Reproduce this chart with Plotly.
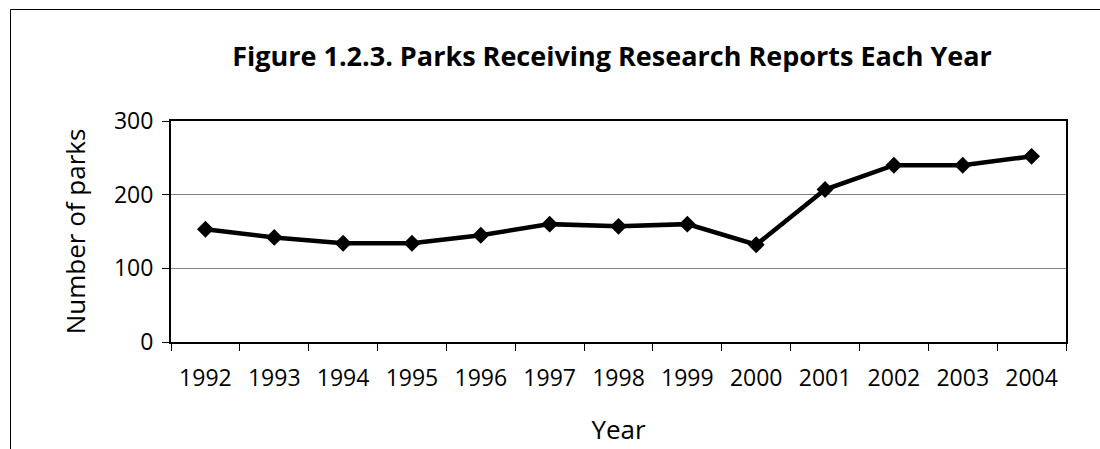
import plotly.graph_objects as go

years = ["1992", "1993", "1994", "1995", "1996", "1997", "1998", "1999",
         "2000", "2001", "2002", "2003", "2004"]
parks = [153, 142, 134, 134, 145, 160, 157, 160, 132, 207, 240, 240, 252]
y_ticks = [0, 100, 200, 300]

W, H = 1100, 449
L, R, T, B = 171, 34, 121, 107
PW, PH = W - L - R, H - T - B

fig = go.Figure()
fig.add_trace(go.Scatter(
    x=years, y=parks, mode="lines+markers",
    line=dict(color="black", width=4.5),
    marker=dict(symbol="diamond", size=13, color="black"),
    showlegend=False, hoverinfo="x+y",
))

font = "Open Sans, Noto Sans, sans-serif"
fig.update_layout(
    width=W, height=H,
    margin=dict(l=L, r=R, t=T, b=B, pad=0, autoexpand=False),
    paper_bgcolor="white", plot_bgcolor="white",
    font=dict(family=font, color="black", size=23),
    title=dict(
        text="<b>Figure 1.2.3. Parks Receiving Research Reports Each Year</b>",
        x=612 / W, xanchor="center", y=1 - 57 / H, yanchor="middle",
        xref="container", yref="container",
        font=dict(family=font, size=27, color="black"),
    ),
    xaxis=dict(
        type="category", range=[-0.5, len(years) - 0.5],
        tickson="boundaries", ticks="outside", ticklen=7,
        tickcolor="black", tickwidth=1, ticklabelstandoff=14,
        showline=True, linecolor="black", linewidth=2, mirror=True,
        showgrid=False, zeroline=False, automargin=False,
        tickfont=dict(size=23),
        title=dict(text="Year", font=dict(size=26), standoff=29),
    ),
    yaxis=dict(
        range=[0, 300], tickvals=y_ticks, ticks="outside", ticklen=7,
        tickcolor="black", tickwidth=1, ticklabelstandoff=4,
        showline=True, linecolor="black", linewidth=2, mirror=True,
        showgrid=True, gridcolor="#808080", gridwidth=1, zeroline=False,
        automargin=False,
        tickfont=dict(size=23),
        title=dict(text="Number of parks", font=dict(size=26), standoff=21),
    ),
)

# outer chart frame (top and left edges visible)
fig.add_shape(type="rect", xref="paper", yref="paper",
              x0=(10.5 - L) / PW, x1=(W + 20 - L) / PW,
              y0=-(B + 20) / PH, y1=(H - B - 9.5) / PH,
              line=dict(color="black", width=1), fillcolor="rgba(0,0,0,0)",
              layer="below")

fig.write_html("out.html",
               config={"displayModeBar": False},
               post_script="document.body.style.margin='0px';"
                           "document.body.style.overflow='hidden';")
